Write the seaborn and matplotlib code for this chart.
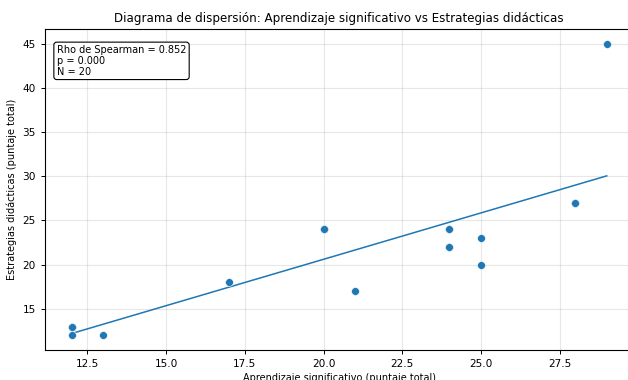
import numpy as np
import pandas as pd
import matplotlib
matplotlib.use("Agg")
import matplotlib.pyplot as plt
import seaborn as sns

# Data (20 observations; several coincide)
aprendizaje = [12, 12, 13, 17, 20, 21, 24, 24, 25, 25, 28, 29, 20, 20, 28, 24, 12, 12, 24, 28]
estrategias = [13, 12, 12, 18, 24, 17, 24, 22, 23, 20, 27, 45, 24, 24, 27, 24, 13, 13, 22, 27]
stats_text = ["Rho de Spearman = 0.852", "p = 0.000", "N = 20"]
title = "Diagrama de dispersión: Aprendizaje significativo vs Estrategias didácticas"
xlabel = "Aprendizaje significativo (puntaje total)"
ylabel = "Estrategias didácticas (puntaje total)"

df = pd.DataFrame({"x": aprendizaje, "y": estrategias})

plt.rcParams["font.family"] = ["DejaVu Sans"]
fig = plt.figure(figsize=(6.28, 3.8), dpi=100)
W, H = 628, 380
ax = fig.add_axes([45 / W, (H - 350) / H, (633.5 - 45) / W, (350 - 29) / H])

sns.scatterplot(data=df, x="x", y="y", ax=ax, s=32, color="#1f77b4",
                edgecolor="white", linewidth=0.4, zorder=3)

coef = np.polyfit(df["x"], df["y"], 1)
xs = np.linspace(df["x"].min(), df["x"].max(), 100)
ax.plot(xs, np.polyval(coef, xs), color="#1f77b4", linewidth=1.1, zorder=2)

ax.grid(True, alpha=0.3)
ax.set_axisbelow(True)
ax.set_title(title, fontsize=8.6, pad=5)
ax.set_xlabel(xlabel, fontsize=7, labelpad=3)
ax.set_ylabel(ylabel, fontsize=7)
ax.tick_params(labelsize=7.6, length=3, width=0.7)
for sp in ax.spines.values():
    sp.set_linewidth(0.8)

ax.text(0.02, 0.95, "\n".join(stats_text), transform=ax.transAxes,
        fontsize=7, va="top", ha="left", linespacing=1.1,
        bbox=dict(boxstyle="round,pad=0.3", facecolor="white", edgecolor="black", linewidth=0.8))

fig.savefig("out.png", dpi=100)
